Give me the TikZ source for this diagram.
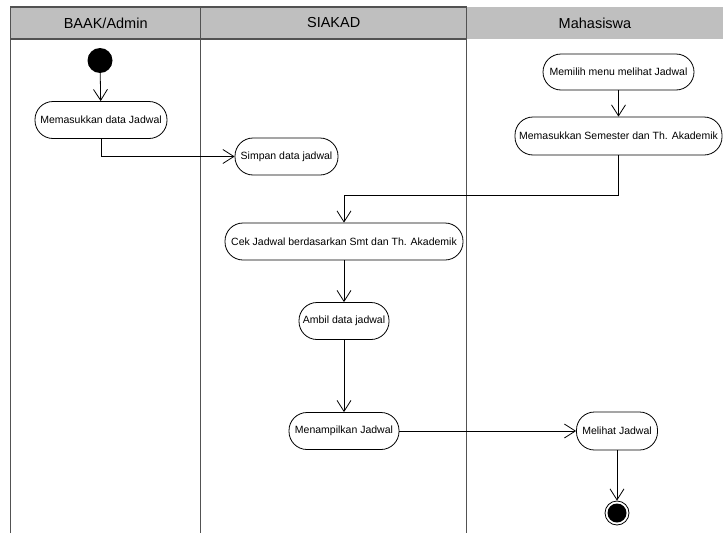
\documentclass[tikz,border=0pt]{standalone}
\usepackage{fontspec}
\setmainfont{Liberation Sans}
\usetikzlibrary{arrows.meta}
\begin{document}
\begin{tikzpicture}[x=1pt,y=-1pt,
  lanefill/.style={fill=black!25},
  laneline/.style={draw=black!68,line width=1.3pt},
  lanetitle/.style={font=\fontsize{14.5}{17}\selectfont,inner sep=0pt},
  act/.style={draw=black,line width=0.8pt,rounded corners=18pt,minimum height=37pt,
    inner sep=0pt,fill=white,font=\fontsize{10.5}{12}\selectfont},
  flow/.style={draw=black,line width=0.8pt,-{Straight Barb[length=11pt,width=14pt,line width=0.8pt]}},
  startdot/.style={circle,fill=black,minimum size=25pt,inner sep=0pt},
  endring/.style={circle,draw=black,line width=0.8pt,fill=white,minimum size=24pt,inner sep=0pt},
]
\useasboundingbox (0,0) rectangle (723,533);

% swimlane headers
\fill[lanefill] (10.7,7) rectangle (723,39);
\draw[laneline] (10.7,533) -- (10.7,7) -- (466.7,7) -- (466.7,533);
\draw[laneline] (10.7,39) -- (466.7,39);
\draw[laneline] (200.7,7) -- (200.7,533);
\node[lanetitle] (hA) at (105.7,23) {BAAK/Admin};
\node[lanetitle] (hB) at (333.7,23) {SIAKAD};
\node[lanetitle] (hC) at (595,23) {Mahasiswa};

% activities
\node[startdot] (start) at (100,60.5) {};
\node[act,minimum width=132pt] (a1) at (101,120) {Memasukkan data Jadwal};
\node[act,minimum width=103pt] (s1) at (286.5,156.5) {Simpan data jadwal};
\node[act,minimum width=151pt,minimum height=36pt] (m1) at (618.5,72) {Memilih menu melihat Jadwal};
\node[act,minimum width=207pt,minimum height=38pt] (m2) at (618.5,136) {Memasukkan Semester dan Th. Akademik};
\node[act,minimum width=238pt] (c1) at (344,241.5) {Cek Jadwal berdasarkan Smt dan Th. Akademik};
\node[act,minimum width=90pt] (a2) at (344,321) {Ambil data jadwal};
\node[act,minimum width=110pt] (d1) at (344,431) {Menampilkan Jadwal};
\node[act,minimum width=81pt,minimum height=38pt] (v1) at (617,431) {Melihat Jadwal};
\node[endring] (stop) at (617,513) {};
\fill (stop.center) circle (9.5pt);

% flows
\coordinate (k1) at (344,195);
\draw[flow] (start) -- (a1);
\draw[flow] (a1.south) |- (s1.west);
\draw[flow] (m1) -- (m2);
\draw[flow] (m2.south) |- (k1) -- (c1.north);
\draw[flow] (c1) -- (a2);
\draw[flow] (a2) -- (d1);
\draw[flow] (d1) -- (v1);
\draw[flow] (v1) -- (stop);
\end{tikzpicture}
\end{document}
